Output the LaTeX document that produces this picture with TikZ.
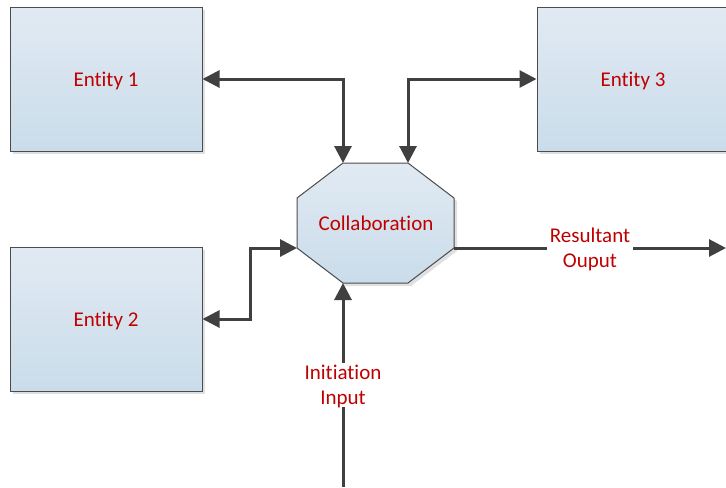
\documentclass[tikz,border=0pt]{standalone}
\usepackage{fontspec}
\setmainfont{Carlito}[Ligatures=NoCommon]
\usetikzlibrary{positioning,arrows.meta,shadows}
\definecolor{boxtop}{HTML}{E1EAF3}
\definecolor{boxbot}{HTML}{CADCEA}
\definecolor{linegray}{HTML}{404040}
\definecolor{textred}{HTML}{C00000}
\tikzstyle{shade} = [top color=boxtop,bottom color=boxbot,draw=black!70,line width=0.75pt,drop shadow={shadow xshift=2.25pt,shadow yshift=-2.25pt,fill=black!12,opacity=1}]
\tikzstyle{entity} = [shade,minimum width=144pt,minimum height=108pt,text=textred]
\tikzstyle{link} = [draw=linegray,line width=2.25pt,-{Triangle[length=12.75pt,width=12.75pt]}]
\tikzstyle{linkboth} = [link,{Triangle[length=12.75pt,width=12.75pt]}-{Triangle[length=12.75pt,width=12.75pt]}]
\tikzstyle{tag} = [fill=white,text=textred,align=center,inner sep=2pt]
\begin{document}
\begin{tikzpicture}[x=0.75pt,y=-0.75pt,every node/.style={font=\fontsize{15.75}{18.75}\selectfont,text depth=0pt}]
    \useasboundingbox (0,0) rectangle (726,487);
    \node [entity] (e1) at (106,79) {Entity 1};
    \node [entity] (e2) at (106,319) {Entity 2};
    \node [entity] (e3) at (633,79) {Entity 3};

    % octagon corners
    \coordinate (otl) at (343,163);
    \coordinate (otr) at (408,163);
    \coordinate (ort) at (454,198);
    \coordinate (orb) at (454,248);
    \coordinate (obr) at (408,283);
    \coordinate (obl) at (343,283);
    \coordinate (olb) at (297,248);
    \coordinate (olt) at (297,198);
    \path [shade] (olt) -- (otl) -- (otr) -- (ort) -- (orb) -- (obr) -- (obl) -- (olb) -- cycle;
    \node [text=textred] (collab) at (376,223) {Collaboration};

    \coordinate (inp) at (343,487);
    \coordinate (outp) at (726,248);

    \draw [linkboth] (e1.east) -| (otl);
    \draw [linkboth] (otr) |- (e3.west);
    \draw [linkboth] (e2.east) -- ++(48,0) |- (olb);
    \draw [link] (inp) -- node[tag] {Initiation\\Input} (obl);
    \draw [link] (orb) -- node[tag] {Resultant\\Ouput} (outp);
\end{tikzpicture}
\end{document}
